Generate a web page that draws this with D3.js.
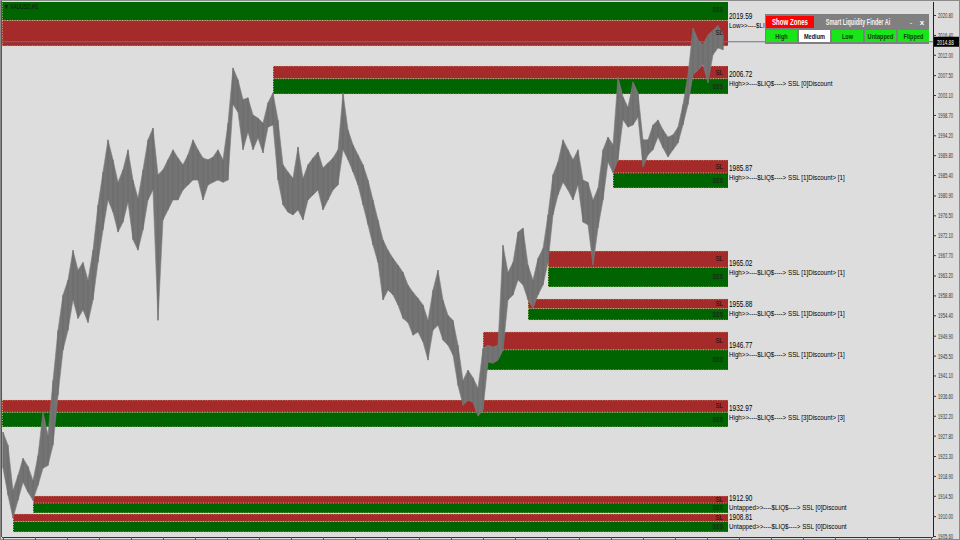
<!DOCTYPE html>
<html><head><meta charset="utf-8">
<script src="https://cdn.jsdelivr.net/npm/d3@7"></script>
<style>html,body{margin:0;padding:0;background:#fff;}svg{display:block;font-family:Arial,"Liberation Sans",sans-serif;}</style>
</head><body><svg id="c" width="960" height="540"></svg>
<script>
// ---- data ----
const symbolLabel = "\u25BC XAUUSD,H1";
const barHigh = [1928.6,1925.7,1915.7,1919.0,1922.8,1921.0,1917.9,1923.4,1933.0,1927.9,
1940.0,1951.1,1958.9,1962.2,1968.8,1964.4,1966.1,1962.2,1968.8,1978.8,
1986.1,1993.2,1988.8,1983.8,1986.6,1991.0,1984.3,1980.3,1986.6,1993.2,
1995.8,1985.5,1986.6,1988.8,1991.0,1989.2,1987.7,1989.9,1993.2,1991.0,
1989.2,1988.8,1989.4,1991.0,1988.8,1996.9,2009.1,2006.5,2002.1,2002.5,
1998.7,1998.0,1996.9,2001.4,2003.6,1997.6,1987.7,1986.1,1984.7,1991.6,
1984.7,1987.7,1989.2,1990.5,1987.0,1988.1,1989.2,1991.0,2003.6,1995.4,
1992.1,1989.9,1987.7,1984.3,1979.9,1975.5,1971.1,1968.8,1967.0,1965.5,
1963.9,1961.1,1959.5,1958.2,1956.7,1953.3,1960.0,1964.4,1957.8,1954.4,
1953.3,1947.8,1940.0,1942.3,1940.6,1938.3,1947.1,1947.8,1947.4,1947.8,
1969.9,1963.9,1966.1,1972.8,1973.7,1965.5,1962.2,1967.0,1969.2,1976.6,
1985.5,1988.3,1993.2,1991.0,1988.8,1991.0,1984.3,1983.8,1979.9,1982.5,
1991.0,1993.8,1992.1,2007.1,2002.7,2000.4,2006.0,2003.6,1993.2,1993.2,
1996.5,1997.6,1995.4,1993.8,1994.3,1996.0,2001.0,2007.6,2017.9,2015.3,
2014.2,2016.4,2017.4,2018.5,2016.4];
const barLow = [1920.6,1914.6,1909.6,1913.5,1917.5,1915.3,1913.5,1916.8,1920.6,1921.2,
1925.7,1936.7,1946.7,1951.1,1957.8,1953.7,1955.6,1952.8,1957.8,1966.1,
1973.3,1979.9,1977.2,1972.8,1975.0,1979.4,1971.1,1968.8,1973.3,1979.9,
1982.1,1953.3,1975.5,1977.7,1979.9,1979.9,1982.1,1983.2,1984.3,1984.3,
1979.9,1983.2,1983.8,1984.3,1983.8,1984.3,2001.0,1999.3,1991.0,1994.9,
1991.0,1993.6,1990.3,1996.0,1996.5,1984.3,1978.8,1977.2,1976.6,1977.7,
1975.5,1979.9,1981.0,1982.1,1977.7,1979.9,1982.1,1983.2,1991.0,1988.8,
1986.1,1983.2,1978.8,1974.4,1969.9,1966.1,1957.8,1960.0,1958.9,1956.7,
1953.7,1952.8,1950.0,1950.7,1948.5,1944.5,1951.1,1952.2,1948.9,1947.8,
1945.6,1938.9,1934.5,1935.6,1935.2,1932.1,1933.4,1944.1,1943.8,1944.5,
1946.7,1957.8,1958.9,1962.2,1961.1,1957.8,1956.0,1958.9,1961.1,1966.1,
1976.6,1981.0,1983.8,1982.1,1979.9,1983.2,1975.0,1974.4,1965.5,1973.7,
1979.9,1988.3,1985.9,1988.8,1997.6,1996.0,1996.5,1998.2,1987.2,1989.9,
1991.0,1993.8,1991.4,1989.4,1991.0,1992.5,1996.5,2001.0,2007.6,2008.6,
2009.8,2005.8,2012.0,2013.5,2013.1];
const zoneTop    = [2024.5, 2009.52, 1988.74, 1968.62, 1958.01, 1950.72, 1935.68, 1914.46, 1910.48];
const zoneMid    = [2019.59, 2006.72, 1985.87, 1965.02, 1955.88, 1946.77, 1932.97, 1912.90, 1908.81];
const zoneBottom = [2013.95, 2003.33, 1982.55, 1960.67, 1953.37, 1942.32, 1929.71, 1910.70, 1906.50];
const zoneStart  = [0, 54, 122, 109, 105, 96, 0, 6, 2];
const zoneKind   = ["Low","High","High","High","High","High","High","Untapped","Untapped"];
const zoneText   = [
 "Low>>----$LI",
 "High>>----$LIQ$----> SSL  [0]Discount",
 "High>>----$LIQ$----> SSL  [1]Discount>  [1]",
 "High>>----$LIQ$----> SSL  [1]Discount>  [1]",
 "High>>----$LIQ$----> SSL  [1]Discount>  [1]",
 "High>>----$LIQ$----> SSL  [1]Discount>  [1]",
 "High>>----$LIQ$----> SSL  [3]Discount>  [3]",
 "Untapped>>----$LIQ$----> SSL  [0]Discount",
 "Untapped>>----$LIQ$----> SSL  [0]Discount"];
const yTicks = [2020.80,2016.40,2012.00,2007.50,2003.10,1998.70,1994.20,1989.80,1985.40,1980.90,
1976.50,1972.10,1967.70,1963.20,1958.80,1954.40,1949.90,1945.50,1941.10,1936.60,1932.20,1927.80,
1923.30,1918.90,1914.50,1910.00,1905.60];
const currentPrice = 2014.88;
const panelTitle = "Smart Liquidity Finder Ai";
const panelToggle = "Show Zones";
const panelButtons = ["High","Medium","Low","Untapped","Flipped"];
const panelActive  = [true,false,true,true,true];

// ---- layout ----
const W=960,H=540, L=2, T=2, R=933, B=537;
const svg=d3.select("#c");
const x=d3.scaleLinear().domain([0,145]).range([3,728]);
const y=d3.scaleLinear().domain([1905.39,2023.67]).range([B,T]);
const RED="#a52a2a", GREEN="#006400", BG="#dddddd";

// horizontally condensed text (the reference's fonts are narrow): scale around the anchor point
function squeeze(sel,f){sel.each(function(){
  const t=d3.select(this);
  const tx=+(t.attr("x")||0), ty=+(t.attr("y")||0);
  const prev=t.attr("transform")||"";
  t.attr("x",0).attr("y",0).attr("transform",`${prev} translate(${tx},${ty}) scale(${f},1)`);
});}

svg.append("rect").attr("x",0).attr("y",0).attr("width",W).attr("height",H).attr("fill",BG);
svg.append("rect").attr("x",0.5).attr("y",0.5).attr("width",W-1).attr("height",H-1).attr("fill","none").attr("stroke","#8a8a8a");
svg.append("line").attr("x1",1.5).attr("x2",1.5).attr("y1",1).attr("y2",B).attr("stroke","#555");

svg.append("clipPath").attr("id","plot").append("rect").attr("x",L).attr("y",T).attr("width",R-L).attr("height",B-T);
const plot=svg.append("g").attr("clip-path","url(#plot)");

// zones
const zones=zoneMid.map((m,i)=>({i,top:zoneTop[i],mid:m,bot:zoneBottom[i],s:zoneStart[i],kind:zoneKind[i],text:zoneText[i]}));
zones.forEach(z=>{
  const x0=z.s===0?L:x(z.s), x1=x(145);
  const upper = z.kind==="Low"?GREEN:RED, lower = z.kind==="Low"?RED:GREEN;
  const g=plot.append("g");
  g.append("rect").attr("x",x0).attr("y",y(z.top)).attr("width",x1-x0).attr("height",y(z.mid)-y(z.top)).attr("fill",upper);
  g.append("rect").attr("x",x0).attr("y",y(z.mid)).attr("width",x1-x0).attr("height",y(z.bot)-y(z.mid)).attr("fill",lower);
  [z.top,z.mid,z.bot].forEach(v=>g.append("line").attr("x1",x0).attr("x2",x1).attr("y1",y(v)).attr("y2",y(v))
     .attr("stroke","#d9cf9a").attr("stroke-width",0.8).attr("stroke-dasharray","1,1.5"));
  g.append("line").attr("x1",x0+0.5).attr("x2",x0+0.5).attr("y1",y(z.top)).attr("y2",y(z.bot))
     .attr("stroke","#d9cf9a").attr("stroke-width",0.8).attr("stroke-dasharray","1,1.5");
});

// current price line
plot.append("line").attr("x1",L).attr("x2",R).attr("y1",y(currentPrice)).attr("y2",y(currentPrice)).attr("stroke","#6f6f8f").attr("stroke-width",1);

// price
const bars=barHigh.map((h,i)=>({i,h,l:barLow[i]}));
plot.append("path").datum(bars).attr("fill","#747474").attr("stroke","#7e7e7e").attr("stroke-width",0.6)
  .attr("d",d3.area().x(d=>x(d.i)).y0(d=>y(d.l)).y1(d=>y(d.h)));
plot.selectAll("line.bar").data(bars).join("line").attr("class","bar")
  .attr("x1",d=>x(d.i)).attr("x2",d=>x(d.i)).attr("y1",d=>y(d.h)).attr("y2",d=>y(d.l))
  .attr("stroke","#6a6a6a").attr("stroke-width",1);

// zone labels
zones.forEach(z=>{
  const upperC=(y(z.top)+y(z.mid))/2, lowerC=(y(z.mid)+y(z.bot))/2;
  const slY = z.kind==="Low"?lowerC:upperC, dY = z.kind==="Low"?upperC:lowerC;
  const g=plot.append("g").attr("font-size","8px").attr("fill","#111").attr("dominant-baseline","central").attr("text-anchor","end");
  squeeze(g.append("text").attr("x",x(145)-5).attr("y",slY).text("SL"),0.78);
  squeeze(g.append("text").attr("x",x(145)-5).attr("y",Math.max(dY,8)).attr("fill","#1a2a1a").text("$$$"),0.78);
});
const lab=svg.append("g").attr("fill","#000").attr("dominant-baseline","central");
zones.forEach(z=>{
  squeeze(lab.append("text").attr("x",x(145)+1).attr("y",y(z.mid)-4.5).attr("font-size","8.5px").text(d3.format(".2f")(z.mid)),0.76);
  squeeze(lab.append("text").attr("x",x(145)+1).attr("y",y(z.mid)+4.6).attr("font-size","7.8px").text(z.text),0.8);
});

// symbol label
squeeze(svg.append("text").attr("x",4).attr("y",7).attr("font-size","7px").attr("dominant-baseline","central").attr("fill","#111").text(symbolLabel),0.7);

// y axis
const ya=svg.append("g").attr("transform",`translate(${R},0)`).call(d3.axisRight(y).tickValues(yTicks).tickSize(3).tickPadding(2).tickFormat(d3.format(".2f")));
ya.select(".domain").attr("stroke","#222").attr("d",`M0.5,${T}V${B}`);
ya.selectAll(".tick line").attr("stroke","#333");
ya.selectAll(".tick text").attr("font-size","7px").attr("fill","#333").attr("dy",null).attr("dominant-baseline","central")
  .attr("font-family","Arial,'Liberation Sans',sans-serif").call(squeeze,0.6);

// current price box
const cp=svg.append("g");
cp.append("rect").attr("x",R+1).attr("y",y(currentPrice)-5).attr("width",W-R-2).attr("height",10).attr("fill","#000");
squeeze(cp.append("text").attr("x",R+4).attr("y",y(currentPrice)).attr("dominant-baseline","central").attr("font-size","7.5px").attr("fill","#fff").text(d3.format(".2f")(currentPrice)),0.62);

// x axis ticks
const xt=d3.scaleLinear().domain([0,928]).range([3,931]);
const xa=svg.append("g").attr("transform",`translate(0,${B})`).call(d3.axisBottom(xt).tickValues(d3.range(0,929,32)).tickSize(3).tickFormat(""));
xa.select(".domain").attr("stroke","#333").attr("d",`M${L},0.5H${R}`);
xa.selectAll(".tick line").attr("stroke","#555");

// panel
const P=svg.append("g");
P.append("rect").attr("x",765).attr("y",14).attr("width",164).attr("height",30).attr("fill","#808080");
P.append("rect").attr("x",766).attr("y",16).attr("width",48).attr("height",12).attr("fill","#ff0000");
squeeze(P.append("text").attr("x",790).attr("y",22.5).attr("text-anchor","middle").attr("dominant-baseline","central")
  .attr("font-size","8.5px").attr("font-weight","bold").attr("fill","#fff").text(panelToggle),0.72);
squeeze(P.append("text").attr("x",858).attr("y",22.5).attr("text-anchor","middle").attr("dominant-baseline","central")
  .attr("font-size","8.5px").attr("font-weight","bold").attr("fill","#f4f4f4").text(panelTitle),0.64);
P.append("text").attr("x",911).attr("y",22).attr("text-anchor","middle").attr("dominant-baseline","central").attr("font-size","8px").attr("fill","#fff").text("-");
P.append("text").attr("x",922).attr("y",22).attr("text-anchor","middle").attr("dominant-baseline","central").attr("font-size","8px").attr("font-weight","bold").attr("fill","#fff").text("x");
const bx=d3.scaleBand().domain(panelButtons).range([766,929]).paddingInner(0.06);
panelButtons.forEach((b,i)=>{
  P.append("rect").attr("x",bx(b)).attr("y",30).attr("width",bx.bandwidth()).attr("height",12).attr("fill",panelActive[i]?"#19e619":"#ffffff");
  squeeze(P.append("text").attr("x",bx(b)+bx.bandwidth()/2).attr("y",36.5).attr("text-anchor","middle").attr("dominant-baseline","central")
    .attr("font-size","8px").attr("font-weight","bold").attr("fill",panelActive[i]?"#0b3d0b":"#111").text(b),0.7);
});
</script></body></html>
